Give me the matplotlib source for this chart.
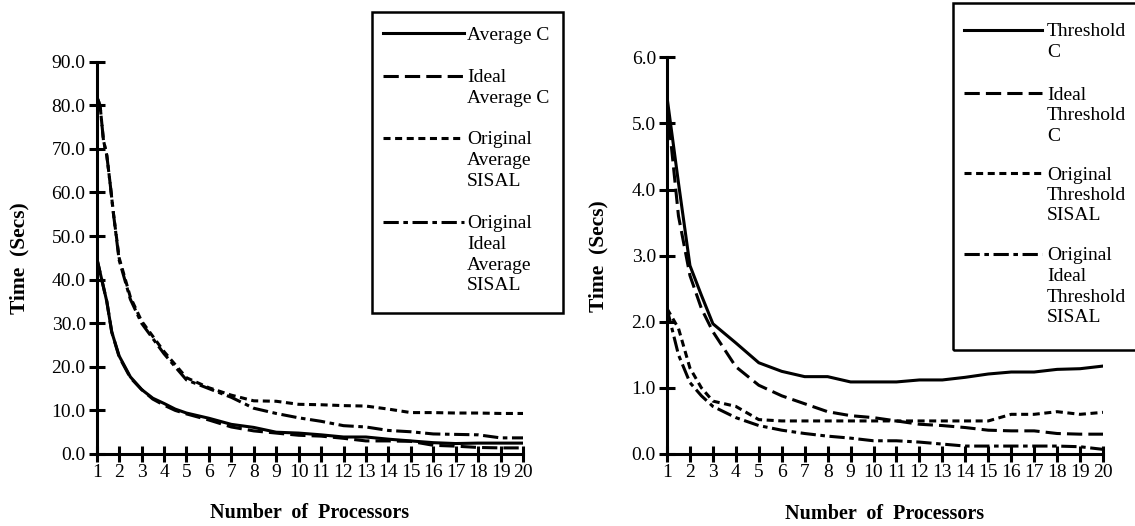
import matplotlib
matplotlib.use('Agg')
import matplotlib.pyplot as plt
from matplotlib.lines import Line2D
from matplotlib.patches import Rectangle

plt.rcParams['font.family'] = ['Liberation Serif', 'DejaVu Serif']
plt.rcParams['font.size'] = 14

# ---- left chart: Average ----
x_avg = [1, 1.45, 1.67, 2, 2.5, 3, 3.5, 4, 4.5, 5, 6, 7, 8, 9, 10, 11, 12, 13, 14, 15, 16, 17, 18, 19, 20]
avg_c = [45, 35, 28, 22.5, 17.7, 14.8, 12.8, 11.6, 10.3, 9.4, 8.2, 6.8, 6.1, 5.0, 4.8, 4.4, 3.9, 3.9, 3.4, 3.0, 2.6, 2.4, 2.5, 2.5, 2.5]
ideal_avg_c = [45, 35, 28, 22.3, 17.5, 14.8, 12.6, 11.2, 10.0, 9.2, 7.8, 6.2, 5.3, 4.8, 4.3, 4.1, 3.6, 3.0, 3.0, 2.9, 2.0, 1.8, 1.5, 1.4, 1.4]

x_sisal = [1, 1.15, 1.3, 1.45, 1.6, 1.75, 2, 2.5, 3, 3.5, 4, 4.5, 5, 6, 7, 8, 9, 10, 11, 12, 13, 14, 15, 16, 17, 18, 19, 20]
orig_avg_sisal = [82, 80, 72, 68.5, 62, 55, 45, 36, 30.5, 27, 23.5, 20.5, 17.5, 15.2, 13.5, 12.2, 12.1, 11.4, 11.3, 11.1, 11.0, 10.3, 9.5, 9.5, 9.4, 9.4, 9.3, 9.3]
orig_ideal_avg_sisal = [82, 80, 72, 68.5, 62, 55, 44.5, 35.5, 30, 26.5, 23, 20, 17, 15, 13, 10.5, 9.3, 8.3, 7.5, 6.5, 6.2, 5.4, 5.1, 4.6, 4.5, 4.4, 3.7, 3.7]

# ---- right chart: Threshold ----
x_thr = [1, 1.5, 2, 2.5, 3, 4, 5, 6, 7, 8, 9, 10, 11, 12, 13, 14, 15, 16, 17, 18, 19, 20]
thr_c = [5.4, 4.1, 2.85, 2.4, 1.97, 1.68, 1.38, 1.25, 1.17, 1.17, 1.09, 1.09, 1.09, 1.12, 1.12, 1.16, 1.21, 1.24, 1.24, 1.28, 1.29, 1.33]
ideal_thr_c = [5.3, 3.6, 2.7, 2.2, 1.85, 1.32, 1.04, 0.88, 0.76, 0.64, 0.58, 0.55, 0.5, 0.45, 0.43, 0.4, 0.36, 0.35, 0.35, 0.31, 0.3, 0.3]
orig_thr_sisal = [2.2, 1.9, 1.3, 1.0, 0.8, 0.72, 0.52, 0.5, 0.5, 0.5, 0.5, 0.5, 0.5, 0.5, 0.5, 0.5, 0.5, 0.6, 0.6, 0.64, 0.6, 0.63]
orig_ideal_thr_sisal = [2.2, 1.5, 1.08, 0.88, 0.72, 0.55, 0.43, 0.36, 0.31, 0.27, 0.24, 0.2, 0.2, 0.18, 0.15, 0.12, 0.12, 0.12, 0.12, 0.12, 0.11, 0.07]

avg_labels = ['Average C', 'Ideal\nAverage C', 'Original\nAverage\nSISAL', 'Original\nIdeal\nAverage\nSISAL']
thr_labels = ['Threshold\nC', 'Ideal\nThreshold\nC', 'Original\nThreshold\nSISAL', 'Original\nIdeal\nThreshold\nSISAL']

procs = list(range(1, 21))
avg_yticks = [0, 10, 20, 30, 40, 50, 60, 70, 80, 90]
thr_yticks = [0, 1, 2, 3, 4, 5, 6]

LW = 2.2
styles = ['-', (0, (5, 2)), (0, (2.3, 1.5)), (0, (5, 1.5, 1.5, 1.5))]

W, H = 1135, 526
fig = plt.figure(figsize=(W / 100, H / 100), dpi=100)
ax1 = fig.add_axes([96.7 / W, 1 - 454 / H, 426.3 / W, 392.3 / H])
ax2 = fig.add_axes([667 / W, 1 - 454 / H, 436 / W, 396.7 / H])


def setup(ax, yticks, ylim, ylab_x):
    for s in ['top', 'right']:
        ax.spines[s].set_visible(False)
    for s in ['left', 'bottom']:
        ax.spines[s].set_linewidth(LW)
    ax.set_xlim(1, 20)
    ax.set_ylim(0, ylim)
    ax.set_xticks(procs)
    ax.set_yticks(yticks)
    ax.set_yticklabels(['%.1f' % v for v in yticks])
    ax.tick_params(direction='inout', length=12, width=LW, labelsize=14)
    ax.tick_params(axis='x', pad=1.5)
    ax.tick_params(axis='y', pad=2)
    ax.set_xlabel('Number  of  Processors', fontweight='bold', fontsize=14.5, va='center')
    ax.xaxis.set_label_coords(0.5, -0.15)
    ax.set_ylabel('Time  (Secs)', fontweight='bold', fontsize=15.5, va='center')
    ax.yaxis.set_label_coords(ylab_x, 0.5)


setup(ax1, avg_yticks, 90, -0.18)
setup(ax2, thr_yticks, 6, -0.158)

ax1.plot(x_avg, avg_c, color='black', lw=LW, ls=styles[0])
ax1.plot(x_avg, ideal_avg_c, color='black', lw=LW, ls=styles[1])
ax1.plot(x_sisal, orig_avg_sisal, color='black', lw=LW, ls=styles[2])
ax1.plot(x_sisal, orig_ideal_avg_sisal, color='black', lw=LW, ls=styles[3])

ax2.plot(x_thr, thr_c, color='black', lw=LW, ls=styles[0])
ax2.plot(x_thr, ideal_thr_c, color='black', lw=LW, ls=styles[1])
ax2.plot(x_thr, orig_thr_sisal, color='black', lw=LW, ls=styles[2])
ax2.plot(x_thr, orig_ideal_thr_sisal, color='black', lw=LW, ls=styles[3])


# hand-made legend boxes, in pixel coords from the top-left
def legend_box(x0, y0, x1, y1, line_x0, line_x1, text_x, entry_y, labels):
    fig.add_artist(Rectangle((x0 / W, 1 - y1 / H), (x1 - x0) / W, (y1 - y0) / H,
                             transform=fig.transFigure, fill=False, lw=1.8, ec='black'))
    for lab, ey, st in zip(labels, entry_y, styles):
        fig.add_artist(Line2D([line_x0 / W, line_x1 / W], [1 - ey / H, 1 - ey / H],
                              transform=fig.transFigure, color='black', lw=LW, ls=st))
        for i, part in enumerate(lab.split('\n')):
            fig.text(text_x / W, 1 - (ey + i * 20.5) / H, part, fontsize=14,
                     ha='left', va='center_baseline')


legend_box(372, 12, 563, 313, 383, 464, 467, [33, 76, 138, 222], avg_labels)
legend_box(953, 3, 1145, 350, 964, 1042, 1047, [30, 93, 173, 254], thr_labels)

fig.savefig('out.png', dpi=100)
